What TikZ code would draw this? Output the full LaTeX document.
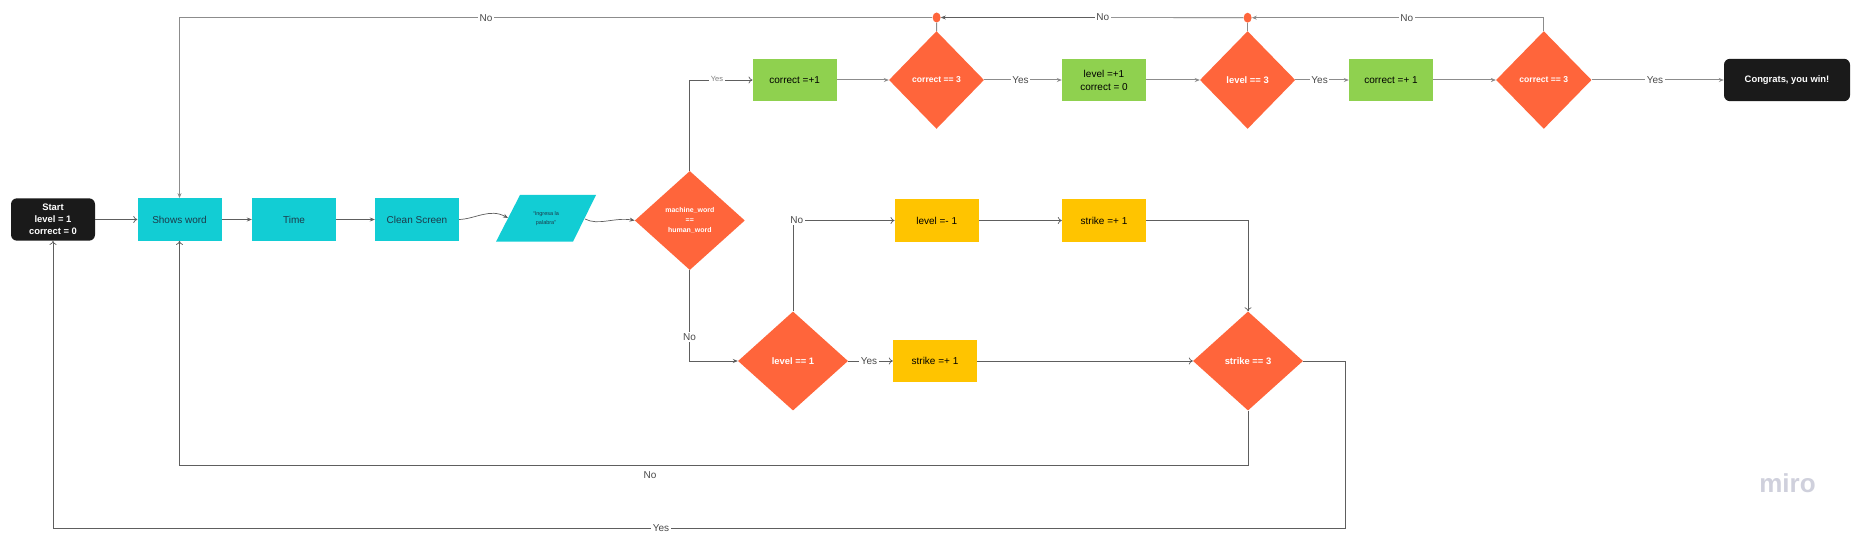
\documentclass[tikz,border=0pt]{standalone}
\usepackage{fontspec}
\setmainfont{Liberation Sans}
\usetikzlibrary{shapes.geometric,arrows.meta}
\definecolor{teal}{HTML}{12CDD4}
\definecolor{orng}{HTML}{FF653B}
\definecolor{grn}{HTML}{8FD14F}
\definecolor{yel}{HTML}{FFC400}
\definecolor{blk}{HTML}{1A1A1A}
\definecolor{dk}{HTML}{5E5E5E}
\definecolor{lt}{HTML}{8C8C8C}
\definecolor{lblc}{HTML}{4A4A4A}
\definecolor{ink}{HTML}{1C3A4A}
\definecolor{mirog}{HTML}{CFD0DC}
\tikzset{
  box/.style={rectangle,minimum width=84,minimum height=42.4,inner sep=0,align=center,font=\fontsize{10}{13}\selectfont},
  tealbox/.style={box,fill=teal,text=ink},
  grnbox/.style={box,fill=grn,text=black},
  yelbox/.style={box,fill=yel,text=black},
  term/.style={rectangle,rounded corners=6,fill=blk,text=white,minimum height=42.4,inner sep=0,align=center,font=\fontsize{9.4}{12}\bfseries\selectfont},
  dec/.style={diamond,fill=orng,text=white,inner sep=0,aspect=1,align=center,font=\fontsize{9.4}{11}\bfseries\selectfont},
  decs/.style={dec,font=\fontsize{7}{10}\bfseries\selectfont},
  decm/.style={dec,font=\fontsize{8.6}{10}\bfseries\selectfont},
  dot/.style={ellipse,fill=orng,minimum width=8,minimum height=10,inner sep=0},
  conn/.style={draw=dk,line width=0.7},
  connl/.style={draw=lt,line width=1},
  open/.style={-{To[length=4,width=7]}},
  solid tip/.style={-{Stealth[length=5,width=4,fill=black!80]}},
  lbl/.style={fill=white,inner sep=1.5,text=lblc,font=\fontsize{10}{12}\selectfont},
  lbls/.style={lbl,text=lblc!70,font=\fontsize{7.5}{9}\selectfont},
}
\begin{document}
\begin{tikzpicture}[x=1pt,y=-1pt]
\useasboundingbox[fill=white] (0,0) rectangle (1860,537);
% nodes
\node[term,minimum width=84] (start) at (53,219.5) {Start\\level = 1\\correct = 0};
\node[tealbox] (shows) at (179.5,219.5) {Shows word};
\node[tealbox] (time) at (294,219.5) {Time};
\node[tealbox] (clean) at (417,219.5) {Clean Screen};
\fill[teal] (520,195) -- (596,195) -- (573,241.7) -- (496,241.7) -- cycle;
\node[text=ink,align=center,inner sep=0,font=\fontsize{5.5}{9}\selectfont] (input) at (546,218.5) {``Ingresa la\\palabra''};
\coordinate (inL) at (508,218);
\coordinate (inR) at (585,219);
\node[decs,minimum width=110,minimum height=99] (mw) at (689.8,220.5) {machine\_word\\==\\human\_word};
\node[grnbox] (c1) at (794.7,80) {correct =+1};
\node[decm,minimum width=95,minimum height=97.7] (d1) at (936.5,80) {correct == 3};
\node[grnbox] (lv) at (1104,80) {level =+1\\correct = 0};
\node[dec,minimum width=95.3,minimum height=97.7] (d2) at (1247.6,80) {level == 3};
\node[grnbox] (c2) at (1391,80) {correct =+ 1};
\node[decm,minimum width=95.5,minimum height=97.7] (d3) at (1543.8,80) {correct == 3};
\node[term,minimum width=126] (win) at (1787,80) {Congrats, you win!};
\node[dot] (j1) at (936.6,17.5) {};
\node[dot] (j2) at (1247.6,17.7) {};
\node[yelbox] (lm) at (936.7,220.5) {level =- 1};
\node[yelbox] (sa) at (1104,220.5) {strike =+ 1};
\node[dec,minimum width=110,minimum height=99] (l1) at (793,361) {level == 1};
\node[yelbox] (sb) at (935,361) {strike =+ 1};
\node[dec,minimum width=110,minimum height=99] (s3) at (1248,361) {strike == 3};
\coordinate (b1) at (1248,465.3);
\coordinate (b2) at (179.5,465.3);
\coordinate (r1) at (1345,361);
\coordinate (r2) at (1345,528);
\coordinate (r3) at (53,528);
\coordinate (t1) at (179.5,17.5);
\coordinate (t3) at (1543.8,17.7);
% connectors
\draw[conn,open] (start.east) -- (shows.west);
\draw[conn,solid tip] (shows.east) -- (time.west);
\draw[conn,solid tip] (time.east) -- (clean.west);
\draw[conn,solid tip] (clean.east) .. controls (475,219) and (490,208) .. (inL);
\draw[conn,solid tip] (inR) .. controls (598,226) and (615,217) .. (mw.west);
\draw[conn,open] (mw.north) |- (c1.west);
\draw[conn,solid tip] (mw.south) |- (l1.west);
\draw[connl,solid tip] (c1.east) -- (d1.west);
\draw[connl,solid tip] (d1.east) -- (lv.west);
\draw[connl,solid tip] (lv.east) -- (d2.west);
\draw[connl,solid tip] (d2.east) -- (c2.west);
\draw[connl,solid tip] (c2.east) -- (d3.west);
\draw[connl,solid tip] (d3.east) -- (win.west);
\draw[connl] (d1.north) -- (j1.south);
\draw[connl] (d2.north) -- (j2.south);
\draw[connl,solid tip] (j1.west) -- (t1) -- (shows.north);
\draw[conn,solid tip] (j2.west) -- (j1.east);
\draw[connl,solid tip] (d3.north) -- (t3) -- (j2.east);
\draw[conn,open] (l1.north) |- (lm.west);
\draw[conn,open] (lm.east) -- (sa.west);
\draw[conn,open] (sa.east) -| (s3.north);
\draw[conn,open] (l1.east) -- (sb.west);
\draw[conn,open] (sb.east) -- (s3.west);
\draw[conn,open] (s3.south) -- (b1) -- (b2) -- (shows.south);
\draw[conn,open] (s3.east) -- (r1) -- (r2) -- (r3) -- (start.south);
% labels
\node[lbl] (n1) at (486,18) {No};
\node[lbl] (n2) at (1102.8,17.5) {No};
\node[lbl] (n3) at (1406.8,17.7) {No};
\node[lbls] (y1) at (717,79) {Yes};
\node[lbl] (y2) at (1020.5,80) {Yes};
\node[lbl] (y3) at (1319.6,80) {Yes};
\node[lbl] (y4) at (1655,80) {Yes};
\node[lbl] (n4) at (796.7,220) {No};
\node[lbl] (n5) at (689.5,336.7) {No};
\node[lbl] (y5) at (869,361) {Yes};
\node[lbl] (n6) at (650,474.7) {No};
\node[lbl] (y6) at (661,528) {Yes};
\node[text=mirog,inner sep=0,font=\fontsize{26}{26}\bfseries\selectfont] (miro) at (1787.5,483) {miro};
\end{tikzpicture}
\end{document}
